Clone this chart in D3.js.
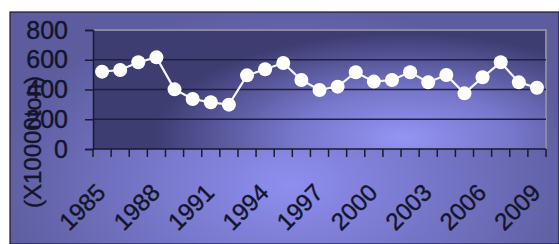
<!DOCTYPE html>
<html>
<head>
<meta charset="utf-8">
<script src="https://cdn.jsdelivr.net/npm/d3@7"></script>
<style>
  body { margin: 0; background: #fff; }
  text { font-family: "Liberation Sans", Arial, sans-serif; stroke: #14142a; stroke-width: 0.4px; }
</style>
</head>
<body>
<div id="chart-area"></div>
<script>
let years = d3.range(1985, 2010).map(String);
let output = [520, 531, 583, 616, 401, 336, 314, 298, 495, 536, 578, 464, 397, 419, 516,
              453, 464, 516, 448, 497, 374, 482, 583, 448, 412];
let yTicks = [0, 200, 400, 600, 800];
let xLabels = ["1985", "1988", "1991", "1994", "1997", "2000", "2003", "2006", "2009"];

let W = 559, H = 244;
let margin = {left: 93, right: 13, top: 30, bottom: 95};
let width = W - margin.left - margin.right,
    height = H - margin.top - margin.bottom;

let svg = d3.select("#chart-area")
    .append("svg")
    .attr("width", W)
    .attr("height", H);

let defs = svg.append("defs");

// outer background gradient
let bg = defs.append("radialGradient")
    .attr("id", "bgGrad")
    .attr("gradientUnits", "userSpaceOnUse")
    .attr("cx", 290).attr("cy", 185).attr("r", 300)
    .attr("gradientTransform", "translate(290,185) scale(1,0.6) translate(-290,-185)");
bg.append("stop").attr("offset", "0%").attr("stop-color", "#8e8ef0");
bg.append("stop").attr("offset", "100%").attr("stop-color", "#5c5c9e");

// plot area gradient
let pg = defs.append("radialGradient")
    .attr("id", "plotGrad")
    .attr("gradientUnits", "userSpaceOnUse")
    .attr("cx", 310).attr("cy", 108).attr("r", 250)
    .attr("gradientTransform", "translate(310,108) scale(1,0.42) translate(-310,-108)");
pg.append("stop").attr("offset", "0%").attr("stop-color", "#9494f4");
pg.append("stop").attr("offset", "45%").attr("stop-color", "#7676ca");
pg.append("stop").attr("offset", "100%").attr("stop-color", "#3d3d72");

let glow = defs.append("filter").attr("id", "glow")
    .attr("x", "-50%").attr("y", "-50%").attr("width", "200%").attr("height", "200%");
glow.append("feGaussianBlur").attr("stdDeviation", 0.7);

// chart frame
svg.append("rect")
    .attr("x", 10).attr("y", 12)
    .attr("width", W - 10).attr("height", H - 12)
    .attr("fill", "url(#bgGrad)")
    .attr("stroke", "#1c1c30")
    .attr("stroke-width", 1.2);

let g = svg.append("g")
    .attr("transform", "translate(" + margin.left + ", " + margin.top + ")");

// X Scale
let x = d3.scaleBand()
    .domain(years)
    .range([0, width]);

// Y Scale
let y = d3.scaleLinear()
    .domain([0, 800])
    .range([height, 0]);

// plot area
g.append("rect")
    .attr("width", width)
    .attr("height", height)
    .attr("fill", "url(#plotGrad)");

// plot border (top & right grey)
g.append("path")
    .attr("d", "M0,0H" + width + "V" + height)
    .attr("fill", "none")
    .attr("stroke", "#8a8a9a")
    .attr("stroke-width", 2);

// gridlines
g.selectAll(".grid")
    .data(yTicks.filter(d => d > 0 && d < 800))
    .enter().append("line")
    .attr("x1", 0).attr("x2", width)
    .attr("y1", d => y(d)).attr("y2", d => y(d))
    .attr("stroke", "#20203c")
    .attr("stroke-width", 1.5);

// Y Axis
let yAxisCall = d3.axisLeft(y)
    .tickValues(yTicks)
    .tickSize(8)
    .tickPadding(17);
let yAxis = g.append("g")
    .attr("class", "y axis")
    .call(yAxisCall);
yAxis.select(".domain").attr("stroke", "#1a1a2c").attr("stroke-width", 1.5);
yAxis.selectAll(".tick line").attr("stroke", "#1a1a2c").attr("stroke-width", 1.5);
yAxis.selectAll("text")
    .attr("font-size", "25px")
    .attr("fill", "#14142a");

// X Axis: ticks at category boundaries
let bounds = years.map(d => x(d)).concat([width]);
g.selectAll(".xtick")
    .data(bounds)
    .enter().append("line")
    .attr("x1", d => d).attr("x2", d => d)
    .attr("y1", height).attr("y2", height + 8)
    .attr("stroke", "#1a1a2c")
    .attr("stroke-width", 1.5);
g.append("line")
    .attr("x1", 0).attr("x2", width)
    .attr("y1", height).attr("y2", height)
    .attr("stroke", "#1a1a2c")
    .attr("stroke-width", 1.5);

// X labels
g.selectAll(".xlabel")
    .data(xLabels)
    .enter().append("text")
    .attr("transform", d => "translate(" + (x(d) + x.bandwidth() / 2 + 5) + "," + (height + 45) + ") rotate(-45)")
    .attr("text-anchor", "end")
    .attr("font-size", "24px")
    .attr("fill", "#14142a")
    .text(d => d);

// Y Label
svg.append("text")
    .attr("transform", "translate(41," + 142 + ") rotate(-90)")
    .attr("text-anchor", "middle")
    .attr("font-size", "24px")
    .attr("fill", "#14142a")
    .text("(X10000ton)");

// Line
let line = d3.line()
    .x((d, i) => x(years[i]) + x.bandwidth() / 2)
    .y(d => y(d));

g.append("path")
    .datum(output)
    .attr("d", line)
    .attr("fill", "none")
    .attr("stroke", "#f4f4ff")
    .attr("stroke-width", 2.2);

// Points
g.selectAll(".dot")
    .data(output)
    .enter().append("circle")
    .attr("cx", (d, i) => x(years[i]) + x.bandwidth() / 2)
    .attr("cy", d => y(d))
    .attr("r", 7)
    .attr("fill", "#ffffff")
    .attr("filter", "url(#glow)");
</script>
</body>
</html>
